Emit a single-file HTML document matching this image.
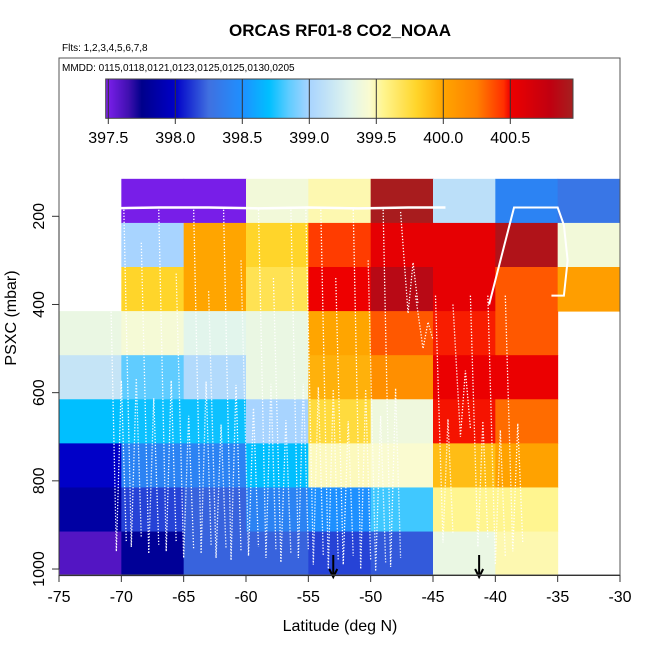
<!DOCTYPE html>
<html><head><meta charset="utf-8"><style>
body{margin:0;background:#fff}
svg{display:block;font-family:"Liberation Sans",sans-serif}
</style></head><body>
<svg id="chart" width="650" height="650" viewBox="0 0 650 650">
<text x="340" y="36" text-anchor="middle" font-weight="bold" font-size="17">ORCAS RF01-8 CO2_NOAA</text>
<text x="62" y="51" font-size="10">Flts: 1,2,3,4,5,6,7,8</text>
<g id="cells"></g>
<g id="tracks"></g>
<g id="cbar"></g>
<text x="62" y="71" font-size="10">MMDD: 0115,0118,0121,0123,0125,0125,0130,0205</text>
<rect x="59" y="58" width="561" height="517" fill="none" stroke="#555" stroke-width="1"/>
<g id="axes"></g>
<text x="340" y="631" text-anchor="middle" font-size="16">Latitude (deg N)</text>
<text x="0" y="0" transform="translate(16,318) rotate(-90)" text-anchor="middle" font-size="16">PSXC (mbar)</text>
</svg>
<script>
const latEdges=[-75,-70,-65,-60,-55,-50,-45,-40,-35,-30];
const presEdges=[115,215,315,415,515,615,715,815,915,1015];
const co2Rows=[
[null,397.5,397.5,399.4,399.5,400.95,399.1,398.4,398.3],
[null,399.0,400.0,399.8,400.42,400.55,400.55,400.9,399.4],
[null,399.8,400.0,399.7,400.5,400.85,400.55,400.35,400.05],
[399.35,399.42,399.3,399.35,400.0,400.35,400.47,400.35,null],
[399.15,398.85,399.05,399.35,399.95,400.15,400.52,400.52,null],
[398.7,398.72,398.72,399.0,399.75,399.38,400.48,400.3,null],
[398.0,398.4,398.4,398.7,399.48,399.45,399.9,400.02,null],
[397.85,398.15,398.22,398.4,398.5,398.8,399.55,399.55,null],
[397.6,397.8,398.22,398.22,398.15,398.2,399.35,399.5,null]];
const xTicks=[-75,-70,-65,-60,-55,-50,-45,-40,-35,-30];
const yTicks=[200,400,600,800,1000];
const cbTicks=[397.5,398.0,398.5,399.0,399.5,400.0,400.5];
const profileLats=[-71,-69.8,-68.4,-67,-65.6,-64.2,-63,-61.8,-60.4,-59,-57.8,-56.4,-55.2,-54,-52.8,-51.4,-50.2,-49,-47.6,-46.4,-44.8,-43.4,-42,-40.6,-39.2];
const profileBottoms=[960,950,965,960,975,965,975,980,970,975,985,975,990,1000,990,1000,1005,995,420,500,940,700,950,990,960];
const profileTops=[185,185,260,185,330,185,370,185,300,185,340,185,185,185,340,185,300,185,190,380,380,400,380,380,380];
const highLegLats=[-71,-67,-63,-59,-55,-51,-47,-44];
const highLegPres=[182,180,180,182,180,182,180,180];
const arrowLats=[-53,-41.3];
const cStops=[[397.48,"#8020f0"],[397.65,"#4010b0"],[397.75,"#00008b"],[398.0,"#0000c8"],[398.25,"#4070e0"],[398.5,"#1e90ff"],[398.7,"#00bfff"],[398.85,"#60ccff"],[399.0,"#a8d4ff"],[399.3,"#e2f5ec"],[399.45,"#fafbd0"],[399.55,"#fff590"],[399.8,"#ffd52a"],[400.0,"#ffa500"],[400.25,"#ff8000"],[400.45,"#ff3000"],[400.5,"#ee0000"],[400.8,"#c00010"],[400.97,"#a52020"]];
const X=lon=>59+(lon+75)*561/45;
const Y=p=>216.3+(p-200)*0.4409;
const CB=v=>108.3+(v-397.5)*134;
function hex(c){return [1,3,5].map(i=>parseInt(c.substr(i,2),16));}
function col(v){
  if(v<=cStops[0][0])return cStops[0][1];
  for(let i=1;i<cStops.length;i++){if(v<=cStops[i][0]){const a=cStops[i-1],b=cStops[i];const t=(v-a[0])/(b[0]-a[0]);const A=hex(a[1]),B=hex(b[1]);return "rgb("+A.map((x,k)=>Math.round(x+(B[k]-x)*t)).join(",")+")";}}
  return cStops[cStops.length-1][1];
}
const NS="http://www.w3.org/2000/svg";
function mk(tag,at,parent){const e=document.createElementNS(NS,tag);for(const k in at)e.setAttribute(k,at[k]);parent.appendChild(e);return e;}
const cells=document.getElementById('cells');
co2Rows.forEach((row,r)=>row.forEach((v,c)=>{if(v===null)return;
  const e=mk('rect',{x:X(latEdges[c]),y:Y(presEdges[r]),width:X(latEdges[c+1])-X(latEdges[c])+0.5,height:Y(presEdges[r+1])-Y(presEdges[r])+0.5,fill:col(v)},cells);
  
  
}));
const tr=document.getElementById('tracks');
profileLats.forEach((lat,i)=>{
  const b=profileBottoms[i],t=profileTops[i];
  const pts=[[lat,t],[lat+0.6,b],[lat+1.0,(t+b)/2],[lat+1.4,b-20]];
  const e=mk('polyline',{points:pts.map(p=>X(p[0])+","+Y(p[1])).join(" "),fill:"none",stroke:"#fff","stroke-width":1.3,"stroke-dasharray":"1.3,1.7"},tr);
  
  
});
const hl=mk('polyline',{points:highLegLats.map((l,i)=>X(l)+","+Y(highLegPres[i])).join(" "),fill:"none",stroke:"#fff","stroke-width":2.5},tr);


const hl2=mk('polyline',{points:[[-40.5,400],[-38.5,180],[-36,180],[-35,180],[-34.5,220],[-34.2,300],[-34.5,380],[-35.5,380]].map(p=>X(p[0])+","+Y(p[1])).join(" "),fill:"none",stroke:"#fff","stroke-width":2},tr);


arrowLats.forEach(l=>{
  const g=mk('g',{},tr);
  
  
  mk('line',{x1:X(l),y1:555,x2:X(l),y2:576,stroke:"#000","stroke-width":2},g);
  mk('polyline',{points:(X(l)-4)+",569 "+X(l)+",577 "+(X(l)+4)+",569",fill:"none",stroke:"#000","stroke-width":2},g);
});
const cb=document.getElementById('cbar');
for(let x=106;x<573;x++){const v=397.5+(x+0.5-108.3)/134;mk('rect',{x:x,y:79,width:1.2,height:39,fill:col(v)},cb);}
mk('rect',{x:105.7,y:79,width:467.3,height:39.3,fill:"none",stroke:"#444","stroke-width":1},cb);
cbTicks.forEach(v=>{
  mk('line',{x1:CB(v),y1:79,x2:CB(v),y2:124,stroke:"#333","stroke-width":1},cb);
  const t=mk('text',{x:CB(v),y:143,"text-anchor":"middle","font-size":16},cb);t.textContent=v.toFixed(1);
  
  
});
const ax=document.getElementById('axes');
mk('line',{x1:59,y1:Y(200),x2:59,y2:Y(1000),stroke:"#333"},ax);
mk('line',{x1:59,y1:575.5,x2:620,y2:575.5,stroke:"#333"},ax);
yTicks.forEach(p=>{
  mk('line',{x1:52,y1:Y(p),x2:59,y2:Y(p),stroke:"#333"},ax);
  const t=mk('text',{x:0,y:0,transform:"translate(44,"+Y(p)+") rotate(-90)","text-anchor":"middle","font-size":16},ax);t.textContent=p;
  
  
});
xTicks.forEach(l=>{
  mk('line',{x1:X(l),y1:575,x2:X(l),y2:582,stroke:"#333"},ax);
  const t=mk('text',{x:X(l),y:602,"text-anchor":"middle","font-size":16},ax);t.textContent=l;
  
  
});
</script>
</body></html>
